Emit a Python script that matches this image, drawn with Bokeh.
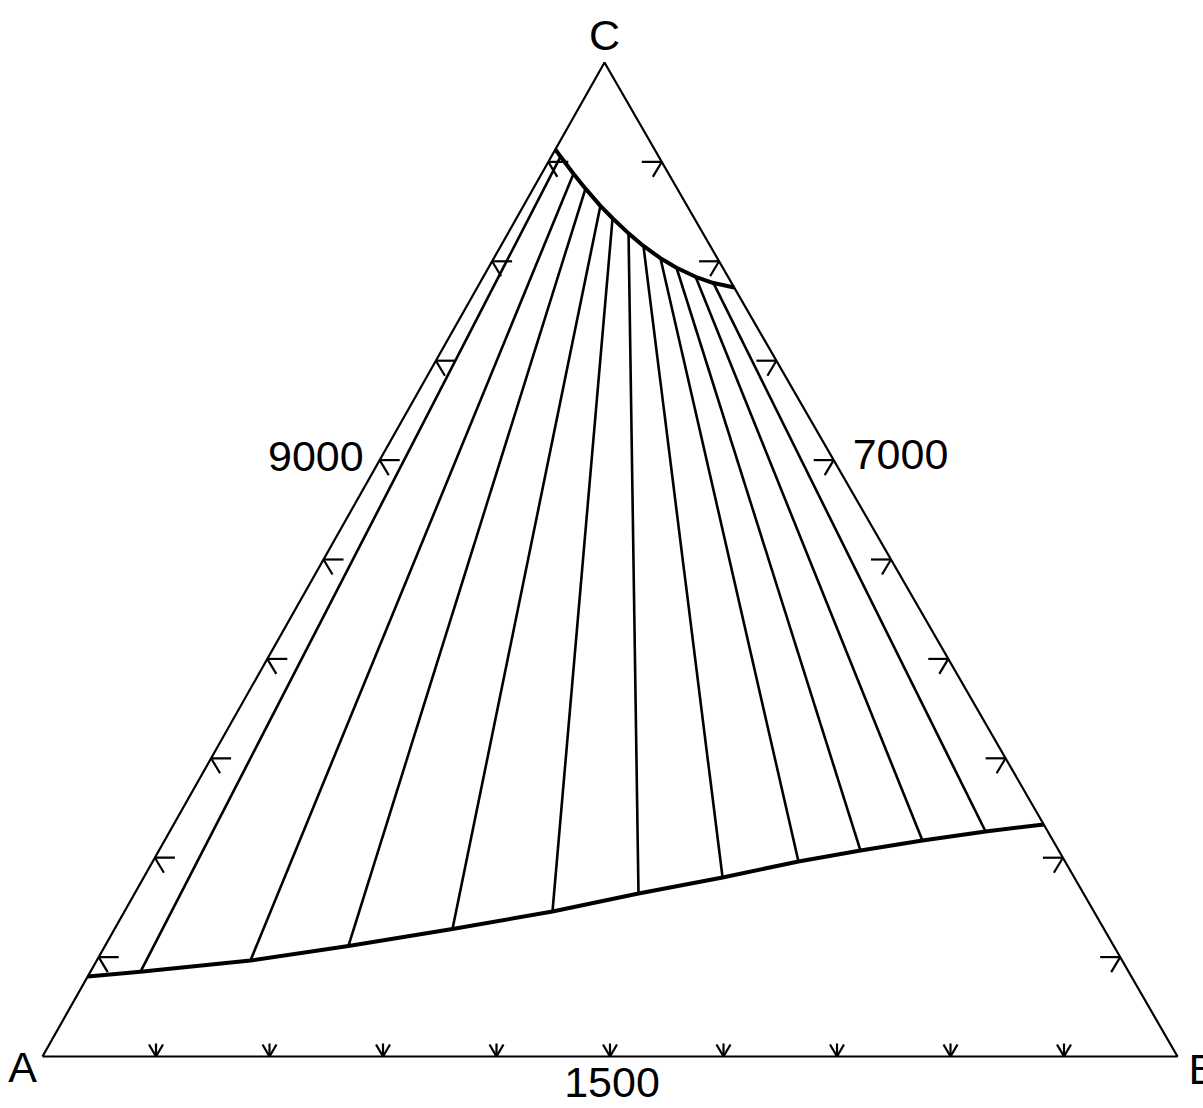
import numpy as np
from bokeh.plotting import figure
from bokeh.models import Range1d
from bokeh.core.properties import value
from bokeh.embed import file_html
from bokeh.resources import INLINE

# ---- data (ternary fractions: b = fraction of B, c = fraction of C) ----
tick_fracs = [0.1, 0.2, 0.3, 0.4, 0.5, 0.6, 0.7, 0.8, 0.9]

# lower phase boundary (from edge A-C to edge B-C)
lower_b = [0.000, 0.0441, 0.1354, 0.2145, 0.2977, 0.3771, 0.4439, 0.5100, 0.5689, 0.6181, 0.6677, 0.7188, 0.7666]
lower_c = [0.0805, 0.0852, 0.0966, 0.1112, 0.1283, 0.1459, 0.1640, 0.1801, 0.1962, 0.2072, 0.2173, 0.2264, 0.2334]

# upper phase boundary (near apex C)
upper_b = [0.000, 0.0081, 0.0281, 0.0461, 0.0678, 0.0847, 0.1063, 0.1257, 0.1468, 0.1657, 0.1870, 0.2059, 0.2264]
upper_c = [0.9125, 0.9054, 0.8881, 0.8731, 0.8558, 0.8433, 0.8281, 0.8154, 0.8031, 0.7935, 0.7844, 0.7781, 0.7736]

vertex_labels = ["A", "B", "C"]
edge_labels = ["9000", "7000", "1500"]   # left edge, right edge, bottom edge

# ---- layout (vertex positions in screen-like data space) ----
AX, AY = 42.0, 1056.0
BX, BY = 1177.0, 1056.0
CX, CY = 604.0, 62.0
W, H = 1203, 1108


def tern(b, c):
    b = np.asarray(b, dtype=float)
    c = np.asarray(c, dtype=float)
    a = 1.0 - b - c
    return a * AX + b * BX + c * CX, a * AY + b * BY + c * CY


p = figure(width=W, height=H,
           x_range=Range1d(0, W), y_range=Range1d(H, 0),
           output_backend="svg", toolbar_location=None, min_border=0)
p.axis.visible = False
p.grid.visible = False
p.outline_line_color = None
p.background_fill_color = "white"
p.border_fill_color = "white"

# triangle frame
tx, ty = tern([0, 1, 0, 0], [0, 0, 1, 0])
p.line(tx, ty, line_color="black", line_width=2.2)

# ticks
f = np.array(tick_fracs)
# bottom edge (A-B): stem up, barbs forming a downward arrow
bx, by = tern(f, np.zeros_like(f))
x0 = np.concatenate([bx, bx, bx]); y0 = np.concatenate([by, by, by])
x1 = np.concatenate([bx, bx - 7, bx + 7]); y1 = np.concatenate([by - 13, by - 12, by - 12])
p.segment(x0, y0, x1, y1, line_color="black", line_width=2.2)
# left edge (A-C): horizontal stem to the right, barb down-right
lx, ly = tern(np.zeros_like(f), f)
p.segment(np.concatenate([lx, lx]), np.concatenate([ly, ly]),
          np.concatenate([lx + 20, lx + 9]), np.concatenate([ly, ly + 15]),
          line_color="black", line_width=2.2)
# right edge (B-C): horizontal stem to the left, barb down-left
rx, ry = tern(1 - f, f)
p.segment(np.concatenate([rx, rx]), np.concatenate([ry, ry]),
          np.concatenate([rx - 20, rx - 9]), np.concatenate([ry, ry + 15]),
          line_color="black", line_width=2.2)

# boundaries
lox, loy = tern(lower_b, lower_c)
upx, upy = tern(upper_b, upper_c)
# tie lines (interior points of both boundaries)
p.segment(lox[1:-1], loy[1:-1], upx[1:-1], upy[1:-1], line_color="black", line_width=2.6)
p.line(lox, loy, line_color="black", line_width=4, line_join="round")
p.line(upx, upy, line_color="black", line_width=4, line_join="round")

# labels (y is the visual centre of the text)
font = value("Liberation Sans")
fs = "43px"
def label(x, y, t, align):
    p.text(x=[x], y=[y], text=[t], text_font=font, text_font_size=fs,
           text_align=align, text_baseline="middle", text_color="black")

label(AX - 20, AY + 10, vertex_labels[0], "center")
label(BX + 11, BY + 12, vertex_labels[1], "left")
label(CX, CY - 28, vertex_labels[2], "center")

ex, ey = tern([0.0], [0.6])
label(ex[0] - 16, ey[0] - 4, edge_labels[0], "right")
ex, ey = tern([0.4], [0.6])
label(ex[0] + 19, ey[0] - 6, edge_labels[1], "left")
ex, ey = tern([0.5], [0.0])
label(ex[0] + 2, ey[0] + 26, edge_labels[2], "center")

open("out.html", "w").write(file_html(p, INLINE))
